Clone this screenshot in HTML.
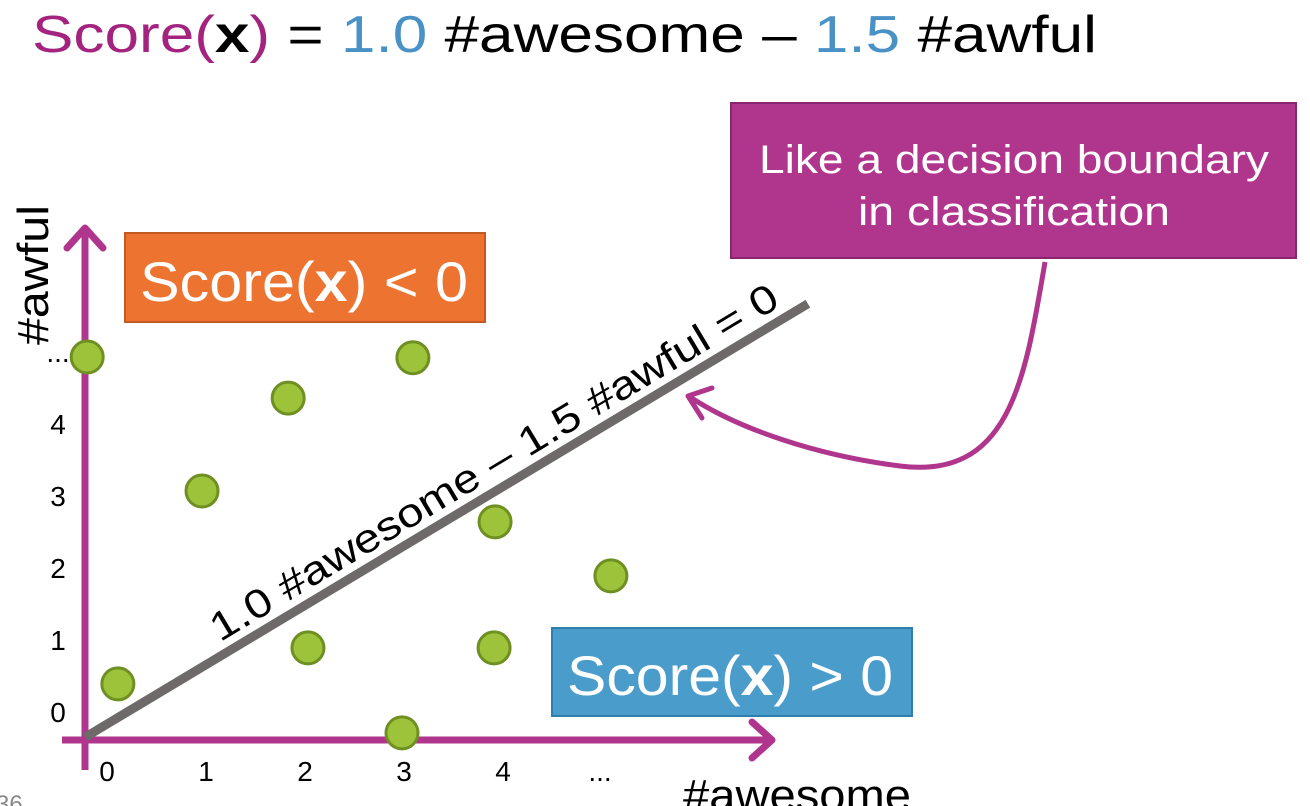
<!DOCTYPE html>
<html><head><meta charset="utf-8">
<style>
html,body{margin:0;padding:0;background:#fff;}
body{width:1310px;height:806px;overflow:hidden;position:relative;font-family:"Liberation Sans",sans-serif;}
svg{position:absolute;left:0;top:0;}
</style></head>
<body>
<svg id="chart" width="1310" height="806" viewBox="0 0 1310 806">
  <text x="32" y="52" font-size="52" textLength="1065" lengthAdjust="spacingAndGlyphs"><tspan fill="#a3237f">Score(</tspan><tspan font-weight="bold" fill="#000">x</tspan><tspan fill="#a3237f">)</tspan><tspan fill="#000"> = </tspan><tspan fill="#4a92c6">1.0</tspan><tspan fill="#000"> #awesome – </tspan><tspan fill="#4a92c6">1.5</tspan><tspan fill="#000"> #awful</tspan></text>

  <rect x="731" y="103" width="565" height="155" fill="#b0358c" stroke="#8a2570" stroke-width="2"/>
  <text x="1014" y="173" font-size="40" fill="#fff" text-anchor="middle" textLength="510" lengthAdjust="spacingAndGlyphs">Like a decision boundary</text>
  <text x="1014" y="225" font-size="40" fill="#fff" text-anchor="middle" textLength="312" lengthAdjust="spacingAndGlyphs">in classification</text>
  <path d="M1045 262 C 1025 380, 1010 480, 900 466 C 820 456, 740 430, 690 397" fill="none" stroke="#b0358c" stroke-width="5"/>
  <path d="M712 388 L688 396 L702 418" fill="none" stroke="#b0358c" stroke-width="5" stroke-linecap="round" stroke-linejoin="round"/>

  <rect x="125" y="233" width="360" height="89" fill="#ed7330" stroke="#c25a22" stroke-width="2"/>
  <text x="304" y="301" font-size="56" fill="#fff" text-anchor="middle" textLength="328" lengthAdjust="spacingAndGlyphs">Score(<tspan font-weight="bold">x</tspan>) &lt; 0</text>
  <rect x="552" y="628" width="360" height="88" fill="#4a9ccb" stroke="#2f7fae" stroke-width="2"/>
  <text x="730" y="695" font-size="56" fill="#fff" text-anchor="middle" textLength="326" lengthAdjust="spacingAndGlyphs">Score(<tspan font-weight="bold">x</tspan>) &gt; 0</text>

  <line x1="62" y1="740" x2="772" y2="740" stroke="#b0358c" stroke-width="7"/>
  <path d="M752 722 L772 740 L752 758" fill="none" stroke="#b0358c" stroke-width="7" stroke-linecap="round" stroke-linejoin="round"/>
  <line x1="85" y1="770" x2="85" y2="228" stroke="#b0358c" stroke-width="7"/>
  <path d="M67 248 L85 228 L103 248" fill="none" stroke="#b0358c" stroke-width="7" stroke-linecap="round" stroke-linejoin="round"/>
  <text x="683" y="810" font-size="44" fill="#000" textLength="228" lengthAdjust="spacingAndGlyphs">#awesome</text>
  <text transform="translate(48,345) rotate(-90)" font-size="44" fill="#000" textLength="140" lengthAdjust="spacingAndGlyphs">#awful</text>
  <text x="-4" y="812" font-size="24" fill="#888">36</text>

  <g id="ticks"></g>
  <g id="boundary"></g>
  <g id="points"></g>
</svg>
<script>
const xTickLabels = ["0","1","2","3","4","..."];
const yTickLabels = ["0","1","2","3","4","..."];
const pointX = [-0.18, 0.13, 0.98, 1.85, 2.05, 3.11, 3.0, 3.94, 3.93, 5.11];
const pointY = [4.93, 0.39, 3.07, 4.36, 0.89, 4.92, -0.29, 2.64, 0.89, 1.89];
const boundaryX = [-0.2, 7.1];
const boundaryY = [-0.35, 5.67];

const NS = "http://www.w3.org/2000/svg";
function sx(v){ return 105 + 99*v; }
function sy(v){ return 712 - 72*v; }

const ticks = document.getElementById('ticks');
xTickLabels.forEach((t,i)=>{
  const el = document.createElementNS(NS,'text');
  el.setAttribute('x', sx(i) + (i===5?0:2));
  el.setAttribute('y', 781);
  el.setAttribute('font-size', 28);
  el.setAttribute('text-anchor','middle');
  el.textContent = t;
  
  
  ticks.appendChild(el);
});
yTickLabels.forEach((t,i)=>{
  const el = document.createElementNS(NS,'text');
  el.setAttribute('x', 58);
  el.setAttribute('y', sy(i) + 10);
  el.setAttribute('font-size', 28);
  el.setAttribute('text-anchor','middle');
  el.textContent = t;
  
  
  ticks.appendChild(el);
});

const bg = document.getElementById('boundary');
const x1 = sx(boundaryX[0]), y1 = sy(boundaryY[0]), x2 = sx(boundaryX[1]), y2 = sy(boundaryY[1]);
const ln = document.createElementNS(NS,'line');
ln.setAttribute('x1',x1); ln.setAttribute('y1',y1); ln.setAttribute('x2',x2); ln.setAttribute('y2',y2);
ln.setAttribute('stroke','#6e6a6a'); ln.setAttribute('stroke-width',9);


bg.appendChild(ln);
const ang = Math.atan2(y2-y1, x2-x1)*180/Math.PI;
const rad = ang*Math.PI/180;
const tcx = 507;
const tcy = y1 + (y2-y1)*(tcx-x1)/(x2-x1);
const off = 12;
const lx = tcx + Math.sin(rad)*off, ly = tcy - Math.cos(rad)*off;
const lbl = document.createElementNS(NS,'text');
lbl.setAttribute('transform', `translate(${lx},${ly}) rotate(${ang})`);
lbl.setAttribute('font-size', 40);
lbl.setAttribute('text-anchor','middle');
lbl.setAttribute('textLength', 655);
lbl.setAttribute('lengthAdjust', 'spacingAndGlyphs');
lbl.textContent = "1.0 #awesome – 1.5 #awful = 0";


bg.appendChild(lbl);

const pg = document.getElementById('points');
pointX.forEach((v,i)=>{
  const c = document.createElementNS(NS,'circle');
  c.setAttribute('cx', sx(v));
  c.setAttribute('cy', sy(pointY[i]));
  c.setAttribute('r', 16);
  c.setAttribute('fill','#9dc33b');
  c.setAttribute('stroke','#6f8f22');
  c.setAttribute('stroke-width',3);
  
  
  pg.appendChild(c);
});
</script>
</body></html>
